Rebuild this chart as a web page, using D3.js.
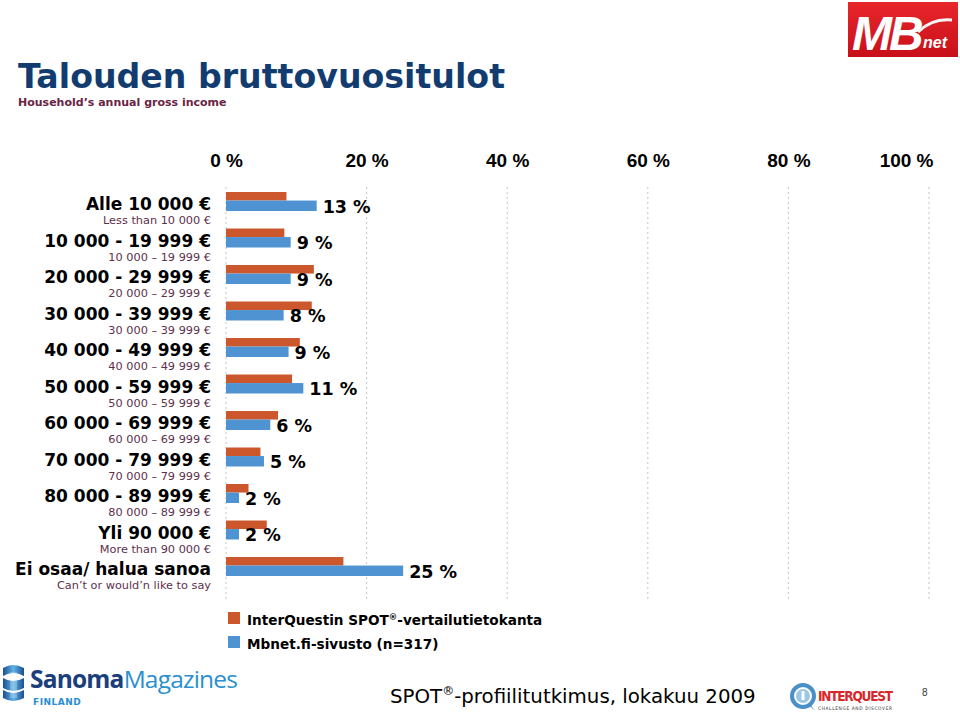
<!DOCTYPE html>
<html><head><meta charset="utf-8">
<script src="https://cdn.jsdelivr.net/npm/d3@7"></script>
<style>body{margin:0;background:#fff}svg{display:block}</style>
</head><body><svg id="c" width="960" height="715"></svg>
<script>
// ---- data ----
const categories = ["Alle 10 000 €", "10 000 - 19 999 €", "20 000 - 29 999 €", "30 000 - 39 999 €",
  "40 000 - 49 999 €", "50 000 - 59 999 €", "60 000 - 69 999 €", "70 000 - 79 999 €",
  "80 000 - 89 999 €", "Yli 90 000 €", "Ei osaa/ halua sanoa"];
const subLabels = ["Less than 10 000 €", "10 000 – 19 999 €", "20 000 – 29 999 €", "30 000 – 39 999 €",
  "40 000 – 49 999 €", "50 000 – 59 999 €", "60 000 – 69 999 €", "70 000 – 79 999 €",
  "80 000 – 89 999 €", "More than 90 000 €", "Can’t or would’n like to say"];
const spotValues = [8.6, 8.3, 12.5, 12.2, 10.5, 9.4, 7.4, 4.9, 3.2, 5.8, 16.7];
const mbnetValues = [12.9, 9.2, 9.2, 8.2, 8.9, 11.0, 6.3, 5.4, 1.85, 1.85, 25.2];
const xTicks = [0, 20, 40, 60, 80, 100];
const seriesNames = ["InterQuestin SPOT", "Mbnet.fi-sivusto (n=317)"];
const seriesColors = ["#cc572c", "#4f93d3"];

const svg = d3.select("#c");
const BOLD = "'DejaVu Sans', Verdana, sans-serif";

// ---- scales ----
const x = d3.scaleLinear().domain([0, 100]).range([226, 929]);
const y = d3.scaleBand().domain(categories).range([183.25, 584.75]).paddingInner(0.48).paddingOuter(0.24);
const bw = y.bandwidth();
const split = bw * 0.45;

// ---- title ----
svg.append("text").attr("x", 18).attr("y", 88).attr("font-family", BOLD).attr("font-weight", "bold")
  .attr("font-size", 33.2).attr("fill", "#123c70").text("Talouden bruttovuositulot");
svg.append("text").attr("x", 18).attr("y", 106).attr("font-family", BOLD).attr("font-weight", "bold")
  .attr("font-size", 11).attr("fill", "#6b2344").text("Household’s annual gross income");

// ---- gridlines ----
svg.append("g").selectAll("line").data(xTicks).join("line")
  .attr("x1", d => x(d)).attr("x2", d => x(d)).attr("y1", 187).attr("y2", 600)
  .attr("stroke", "#c4c4c4").attr("stroke-width", 1).attr("stroke-dasharray", "2,3");

// ---- top axis ----
const axis = svg.append("g").attr("transform", "translate(0,160)")
  .call(d3.axisTop(x).tickValues(xTicks).tickFormat(d => d + " %").tickSize(0));
axis.select(".domain").remove();
axis.selectAll("text").attr("font-family", "'Liberation Sans', Arial, sans-serif").attr("font-weight", "bold")
  .attr("font-size", 19).attr("fill", "#000").attr("dy", "0.5em");
axis.selectAll(".tick").filter(d => d === 100).select("text").attr("text-anchor", "end").attr("x", 4);

// ---- bars ----
const g = svg.append("g");
g.selectAll("rect.spot").data(categories).join("rect").attr("class", "spot")
  .attr("x", x(0)).attr("y", d => y(d)).attr("height", split)
  .attr("width", (d, i) => x(spotValues[i]) - x(0)).attr("fill", seriesColors[0]);
g.selectAll("rect.mb").data(categories).join("rect").attr("class", "mb")
  .attr("x", x(0)).attr("y", d => y(d) + split).attr("height", bw - split)
  .attr("width", (d, i) => x(mbnetValues[i]) - x(0)).attr("fill", seriesColors[1]);
g.selectAll("text.val").data(categories).join("text").attr("class", "val")
  .attr("x", (d, i) => x(mbnetValues[i]) + 6).attr("y", d => y(d) + bw + 2)
  .attr("font-family", BOLD).attr("font-weight", "bold").attr("font-size", 17.5).attr("fill", "#000")
  .text((d, i) => Math.round(mbnetValues[i]) + " %");

// ---- category labels ----
g.selectAll("text.cat").data(categories).join("text").attr("class", "cat")
  .attr("x", 211).attr("y", d => y(d) + 18).attr("text-anchor", "end")
  .attr("font-family", BOLD).attr("font-weight", "bold").attr("font-size", 17).attr("fill", "#000")
  .text(d => d);
g.selectAll("text.sub").data(categories).join("text").attr("class", "sub")
  .attr("x", 211).attr("y", d => y(d) + 32).attr("text-anchor", "end")
  .attr("font-family", BOLD).attr("font-size", 11.3).attr("fill", "#5e2f4c")
  .text((d, i) => subLabels[i]);

// ---- legend ----
const leg = svg.append("g");
seriesNames.forEach((n, i) => {
  const ly = 612 + i * 24;
  leg.append("rect").attr("x", 228).attr("y", ly).attr("width", 12).attr("height", 12).attr("fill", seriesColors[i]);
  const t = leg.append("text").attr("x", 247).attr("y", ly + 12.5).attr("font-family", BOLD)
    .attr("font-weight", "bold").attr("font-size", 13.6).attr("fill", "#000");
  if (i === 0) {
    t.append("tspan").text(n);
    t.append("tspan").attr("font-size", 8.5).attr("dy", -5).text("®");
    t.append("tspan").attr("dy", 5).text("-vertailutietokanta");
  } else t.text(n);
});

// ---- footer ----
const ft = svg.append("text").attr("x", 390).attr("y", 703).attr("font-family", "'DejaVu Sans', sans-serif")
  .attr("font-size", 19.8).attr("fill", "#000");
ft.append("tspan").text("SPOT");
ft.append("tspan").attr("font-size", 12).attr("dy", -8).text("®");
ft.append("tspan").attr("dy", 8).text("-profiilitutkimus, lokakuu 2009");
svg.append("text").attr("x", 922).attr("y", 696).attr("font-family", "'Liberation Sans', Arial, sans-serif")
  .attr("font-size", 10).attr("fill", "#333").text("8");

// ---- MBnet logo ----
const defs = svg.append("defs");
const rg = defs.append("linearGradient").attr("id", "mbg").attr("x1", 0).attr("y1", 0).attr("x2", 0).attr("y2", 1);
rg.append("stop").attr("offset", 0).attr("stop-color", "#e8262b");
rg.append("stop").attr("offset", 1).attr("stop-color", "#c8101a");
svg.append("rect").attr("x", 848).attr("y", 2).attr("width", 110).attr("height", 55).attr("fill", "url(#mbg)");
svg.append("text").attr("x", 852).attr("y", 50).attr("font-family", "'Liberation Sans', Arial, sans-serif")
  .attr("font-weight", "bold").attr("font-style", "italic").attr("font-size", 48).attr("fill", "#fff")
  .attr("letter-spacing", -3).text("MB");
svg.append("path").attr("d", "M918,32 Q932,18 952,20").attr("stroke", "#f3f3f3").attr("stroke-width", 3).attr("fill", "none");
svg.append("text").attr("x", 923).attr("y", 48).attr("font-family", "'Liberation Sans', Arial, sans-serif")
  .attr("font-weight", "bold").attr("font-style", "italic").attr("font-size", 16).attr("fill", "#fff").text("net");

// ---- Sanoma Magazines logo ----
const sg = defs.append("linearGradient").attr("id", "sgr").attr("x1", 0).attr("y1", 0).attr("x2", 1).attr("y2", 0);
sg.append("stop").attr("offset", 0).attr("stop-color", "#1a4f8f");
sg.append("stop").attr("offset", 0.5).attr("stop-color", "#5fb3e6");
sg.append("stop").attr("offset", 1).attr("stop-color", "#1a4f8f");
const sl = svg.append("g");
sl.append("path").attr("d", "M3,668 Q13,662 24,668 L24,676 Q13,670 3,676 Z").attr("fill", "url(#sgr)");
sl.append("path").attr("d", "M3,678 Q13,684 24,678 L24,688 Q13,694 3,688 Z").attr("fill", "url(#sgr)");
sl.append("path").attr("d", "M3,690 Q13,696 24,690 L24,698 Q13,704 3,698 Z").attr("fill", "url(#sgr)");
sl.append("rect").attr("x", 10).attr("y", 672).attr("width", 7).attr("height", 26).attr("fill", "#fff").attr("opacity", 0.25);
const st = sl.append("text").attr("x", 30).attr("y", 688).attr("font-family", "'Open Sans', 'DejaVu Sans', sans-serif")
  .attr("font-size", 24.5).attr("letter-spacing", -0.8);
st.append("tspan").attr("font-weight", "bold").attr("fill", "#1b3f7c").text("Sanoma");
st.append("tspan").attr("fill", "#2a8fcf").text("Magazines");
sl.append("text").attr("x", 33).attr("y", 705).attr("font-family", "'DejaVu Sans', sans-serif").attr("font-weight", "bold")
  .attr("font-size", 9).attr("fill", "#2a8fcf").attr("letter-spacing", 0.5).text("FINLAND");

// ---- InterQuest logo ----
const iq = svg.append("g");
iq.append("circle").attr("cx", 803).attr("cy", 696).attr("r", 11).attr("fill", "none").attr("stroke", "#4a90c8").attr("stroke-width", 4);
iq.append("circle").attr("cx", 803).attr("cy", 696).attr("r", 7).attr("fill", "#9cc6e6");
iq.append("rect").attr("x", 801.5).attr("y", 691).attr("width", 3).attr("height", 9).attr("fill", "#fff");
iq.append("path").attr("d", "M808,704 L815,711 L810,704 Z").attr("fill", "#4a90c8");
iq.append("text").attr("x", 818).attr("y", 701).attr("font-family", "'DejaVu Sans Condensed', 'DejaVu Sans', sans-serif")
  .attr("font-weight", "bold").attr("font-size", 13.5).attr("fill", "#d9262b").attr("textLength", 75).text("INTERQUEST");
iq.append("text").attr("x", 818).attr("y", 710).attr("font-family", "'DejaVu Sans Condensed', sans-serif")
  .attr("font-size", 4.8).attr("fill", "#333").attr("textLength", 74).text("CHALLENGE AND DISCOVER");
</script></body></html>
